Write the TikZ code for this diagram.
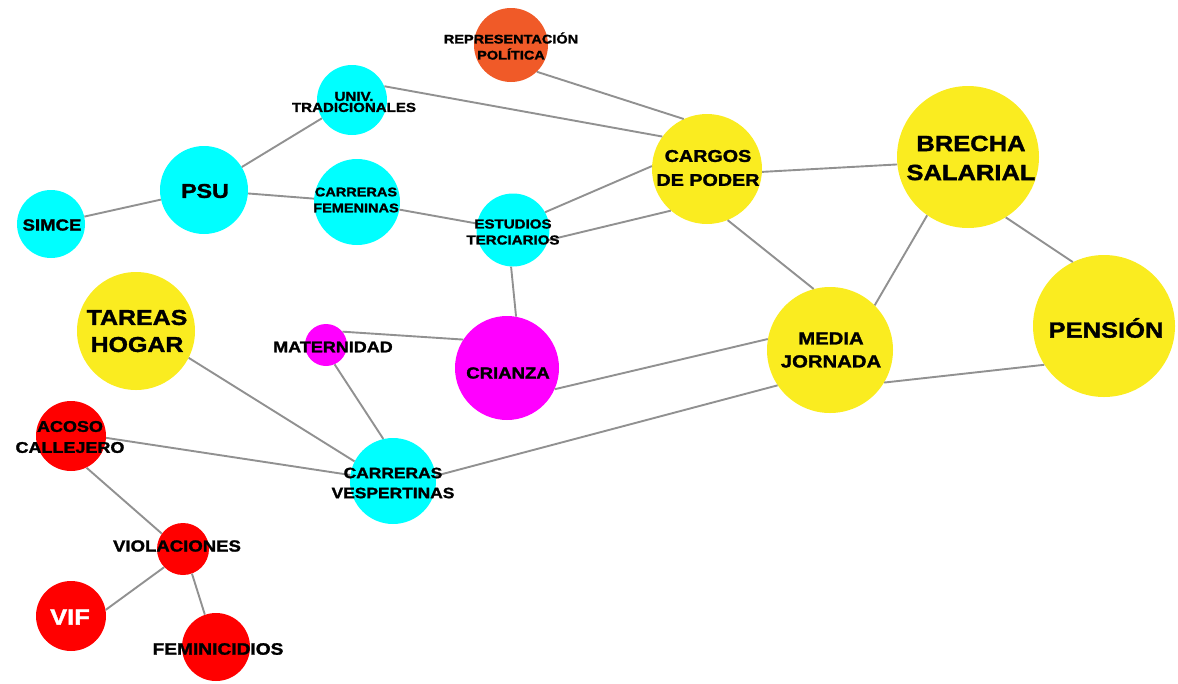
\documentclass[tikz,border=0pt]{standalone}
\usepackage{fontspec}
\usepackage{tikz}
\newfontfamily\netfont{Liberation Sans}[FakeStretch=1.16, FakeBold=1.6]
\definecolor{topiccyan}{RGB}{0,255,255}
\definecolor{topicyellow}{RGB}{250,236,32}
\definecolor{topicmagenta}{RGB}{255,0,255}
\definecolor{topicred}{RGB}{255,0,0}
\definecolor{topicorange}{RGB}{240,90,40}
\definecolor{linkgray}{RGB}{145,145,145}
\tikzset{hub/.style={circle, inner sep=0, minimum size=#1pt}}
\tikzset{tag/.style 2 args={align=center, inner sep=0, font=\netfont\bfseries\fontsize{#1}{#2}\selectfont}}
\tikzset{link/.style={draw=linkgray, line width=1.9pt}}

\begin{document}
\begin{tikzpicture}[x=1pt, y=-1pt]
  \useasboundingbox (0, 0) rectangle (1178, 683);

  \node[hub=74, fill=topicorange] at (511, 45) (REP) {};
  \node[hub=70, fill=topiccyan] at (352, 100) (UNIV) {};
  \node[hub=88, fill=topiccyan] at (204, 190) (PSU) {};
  \node[hub=68, fill=topiccyan] at (51, 224) (SIM) {};
  \node[hub=86, fill=topiccyan] at (357, 202) (FEM) {};
  \node[hub=73, fill=topiccyan] at (513, 230) (EST) {};
  \node[hub=86, fill=topiccyan] at (393, 481) (VES) {};

  \node[hub=110, fill=topicyellow] at (707, 169) (CAR) {};
  \node[hub=142, fill=topicyellow] at (968, 157) (BRE) {};
  \node[hub=142, fill=topicyellow] at (1104, 326) (PEN) {};
  \node[hub=126, fill=topicyellow] at (830, 350) (MED) {};
  \node[hub=118, fill=topicyellow] at (136, 331) (TAR) {};

  \node[hub=42, fill=topicmagenta] at (326, 345) (MAT) {};
  \node[hub=104, fill=topicmagenta] at (507, 368) (CRI) {};

  \node[hub=70, fill=topicred] at (71, 436) (ACO) {};
  \node[hub=52, fill=topicred] at (183, 549) (VIO) {};
  \node[hub=70, fill=topicred] at (71, 616) (VIF) {};
  \node[hub=68, fill=topicred] at (216, 647) (FMC) {};

  \draw[link] (SIM) -- (PSU);
  \draw[link] (PSU) -- (UNIV);
  \draw[link] (PSU) -- (FEM);
  \draw[link] (FEM) -- (EST);
  \draw[link] (UNIV.23) -- (CAR.144);
  \draw[link] (REP.-46) -- (CAR.115);
  \draw[link] (EST.29) -- (CAR.177);
  \draw[link] (EST.-16) -- (CAR.229);
  \draw[link] (EST.267) -- (CRI.80);
  \draw[link] (CAR.-3) -- (BRE.186);
  \draw[link] (CAR.-68) -- (MED.105);
  \draw[link] (BRE.235) -- (MED.45);
  \draw[link] (BRE.-58) -- (PEN.116);
  \draw[link] (MED.-31) -- (PEN.213);
  \draw[link] (CRI.-24) -- (MED.170);
  \draw[link] (VES.7) -- (MED.214);
  \draw[link] (MAT.39) -- (CRI.147);
  \draw[link] (MAT.-66) -- (VES.103);
  \draw[link] (TAR.-27) -- (VES.153);
  \draw[link] (ACO.-3) -- (VES.172);
  \draw[link] (ACO.-64) -- (VIO.144);
  \draw[link] (VIO.224) -- (VIF.10);
  \draw[link] (VIO.-70) -- (FMC.109);

  % labels on top of the links
  \node[tag={12.5}{16}] at (511, 46) (REPt) {REPRESENTACIÓN\\POLÍTICA};
  \node[tag={13}{11}] at (354, 102) (UNIVt) {UNIV.\\TRADICIONALES};
  \node[tag={20}{24}] at (205, 191) (PSUt) {PSU};
  \node[tag={16}{20}] at (52, 225) (SIMt) {SIMCE};
  \node[tag={12.5}{16}] at (356, 200) (FEMt) {CARRERAS\\FEMENINAS};
  \node[tag={13}{16}] at (513, 232) (ESTt) {ESTUDIOS\\TERCIARIOS};
  \node[tag={15}{20}] at (393, 483) (VESt) {CARRERAS\\VESPERTINAS};
  \node[tag={17}{24}] at (708, 168) (CARt) {CARGOS\\DE PODER};
  \node[tag={22}{29}] at (971, 158) (BREt) {BRECHA\\SALARIAL};
  \node[tag={22}{26}] at (1106, 328) (PENt) {PENSIÓN};
  \node[tag={17.5}{23}] at (831, 350) (MEDt) {MEDIA\\JORNADA};
  \node[tag={21.5}{27}] at (137, 331) (TARt) {TAREAS\\HOGAR};
  \node[tag={15.5}{19}] at (333, 347) (MATt) {MATERNIDAD};
  \node[tag={16}{20}] at (508, 373) (CRIt) {CRIANZA};
  \node[tag={15.5}{21}] at (70, 437) (ACOt) {ACOSO\\CALLEJERO};
  \node[tag={16}{20}] at (177, 546) (VIOt) {VIOLACIONES};
  \node[tag={22}{26}, text=white] at (70, 617) (VIFt) {VIF};
  \node[tag={16.5}{20}] at (218, 649) (FMCt) {FEMINICIDIOS};
\end{tikzpicture}
\end{document}
